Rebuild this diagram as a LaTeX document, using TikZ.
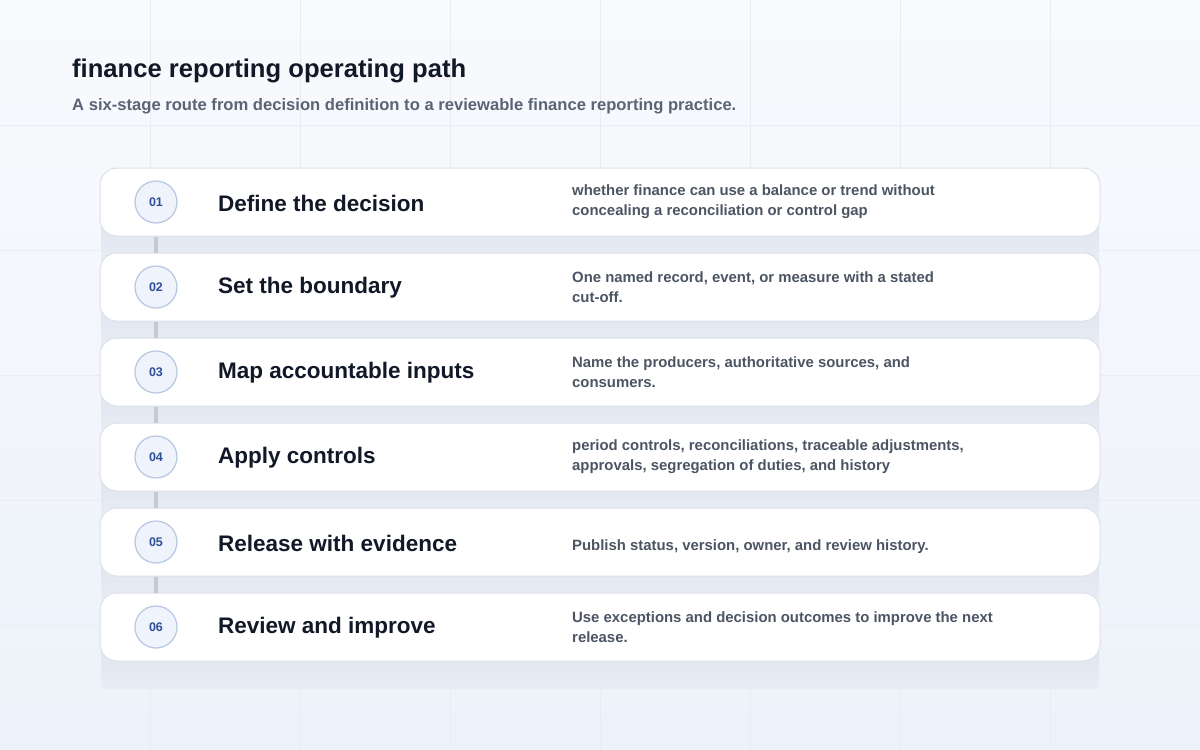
\documentclass[tikz,border=0pt]{standalone}
\usepackage{fontspec}
\setmainfont{Liberation Sans}
\definecolor{ink}{HTML}{111827}
\definecolor{subink}{HTML}{5B6475}
\definecolor{noteink}{HTML}{4B5563}
\definecolor{numink}{HTML}{2F4F9A}
\definecolor{numfill}{HTML}{EEF3FC}
\definecolor{numline}{HTML}{B7C7E3}
\definecolor{cardline}{HTML}{DCE0E9}
\definecolor{railgray}{HTML}{C6C9D0}
\definecolor{bgtop}{HTML}{F8FAFD}
\definecolor{bgbot}{HTML}{EDF2FA}
\definecolor{gridline}{HTML}{E8ECF3}
\definecolor{shadetop}{HTML}{D7DDE8}
\definecolor{shadebot}{HTML}{E9EEF6}
\begin{document}
\begin{tikzpicture}[x=1pt,y=-1pt,
    card/.style={draw=cardline,fill=white,line width=1pt,rounded corners=17pt,
      minimum width=1000pt,minimum height=68pt},
    numdot/.style={circle,draw=numline,fill=numfill,line width=1.2pt,minimum size=42pt,
      inner sep=0pt,text=numink,font=\fontsize{12.5pt}{14pt}\selectfont\bfseries},
    stagetitle/.style={anchor=west,inner sep=0pt,text=ink,font=\fontsize{22.5pt}{26pt}\selectfont\bfseries},
    stagenote/.style={anchor=west,inner sep=0pt,align=left,text=noteink,
      font=\fontsize{14.9pt}{20pt}\selectfont\bfseries},
    rail/.style={railgray,line width=4pt}]
    \useasboundingbox (0,0) rectangle (1200,750);
    \fill[top color=bgtop,bottom color=bgbot] (0,0) rectangle (1200,750);
    \foreach \gx in {150,300,...,1050}
      \draw[gridline,line width=0.8pt] (\gx,0) -- (\gx,750);
    \foreach \gy in {125,250,...,625}
      \draw[gridline,line width=0.8pt] (0,\gy) -- (1200,\gy);
    \node[anchor=base west,inner sep=0pt,text=ink,font=\fontsize{25.6pt}{28pt}\selectfont\bfseries]
      (heading) at (72,77) {finance reporting operating path};
    \node[anchor=base west,inner sep=0pt,text=subink,font=\fontsize{16.6pt}{19pt}\selectfont\bfseries]
      (subheading) at (72,110) {A six-stage route from decision definition to a reviewable finance reporting practice.};
    \begin{scope}
      \clip (80,150) rectangle (1120,688);
      \foreach \i in {1,...,6}
        \fill[top color=shadetop,bottom color=shadebot]
          (101,168+85*\i-85+20) rectangle (1099,236+85*\i-85+30);
    \end{scope}
    \foreach \i/\ttl/\dsc/\dy in {
        1/Define the decision/{whether finance can use a balance or trend without\\concealing a reconciliation or control gap}/0,
        2/Set the boundary/{One named record, event, or measure with a stated\\cut-off.}/0,
        3/Map accountable inputs/{Name the producers, authoritative sources, and\\consumers.}/0,
        4/Apply controls/{period controls, reconciliations, traceable adjustments,\\approvals, segregation of duties, and history}/0,
        5/Release with evidence/{Publish status, version, owner, and review history.}/5,
        6/Review and improve/{Use exceptions and decision outcomes to improve the next\\release.}/0}{
      \node[card] (card\i) at (600,202+85*\i-85) {};
      \node[numdot] (num\i) at (156,202+85*\i-85) {0\i};
      \node[stagetitle] (title\i) at (218,203+85*\i-85) {\ttl};
      \node[stagenote] (note\i) at (572,202+85*\i-85+\dy) {\dsc};
    }
    \foreach \i [evaluate=\i as \j using int(\i+1)] in {1,...,5}
      \draw[rail] (num\i |- card\i.south) -- (num\j |- card\j.north);
\end{tikzpicture}
\end{document}
